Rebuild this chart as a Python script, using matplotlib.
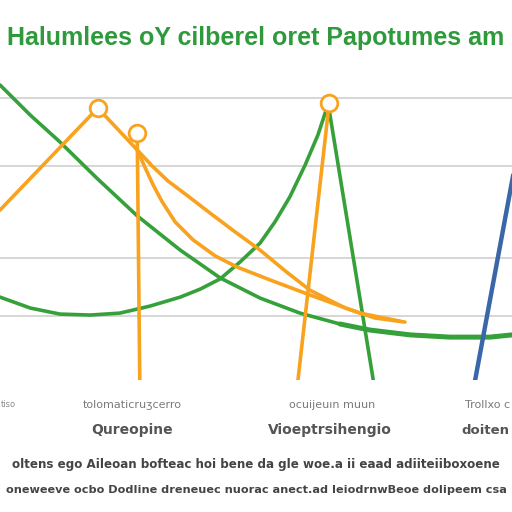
import matplotlib
matplotlib.use('Agg')
import matplotlib.pyplot as plt

# values (x: 0-100, y: 0-100)
grid_levels = [20, 38, 67, 88]

g_fall_x = [0, 5.9, 11.7, 18.9, 26.8, 35.2, 43.0, 50.8, 58.6, 66.4, 72.3, 80.1, 87.9, 95.7, 100]
g_fall_y = [92.2, 82.8, 74.4, 63.1, 51.3, 40.6, 31.9, 25.6, 20.9, 17.5, 15.6, 14.1, 13.4, 13.4, 14.1]

g_spike_x = [0, 5.9, 11.7, 17.6, 23.4, 29.3, 35.2, 39.1, 43.0, 46.9, 50.8, 53.7, 56.6, 59.6, 62.1, 64.1, 72.9]
g_spike_y = [25.9, 22.5, 20.6, 20.3, 20.9, 23.1, 25.9, 28.4, 31.6, 36.9, 42.8, 49.4, 57.2, 67.2, 76.6, 86.3, 0]

o_main_x = [0, 19.1, 26.8, 29.7, 32.8, 36.7, 41.0, 45.9, 50.8, 55.7, 60.5, 67.4, 73.2, 79.1]
o_main_y = [53.1, 85.0, 71.9, 66.9, 62.2, 57.5, 52.2, 46.3, 40.6, 34.1, 28.1, 22.5, 19.4, 18.1]

o_bend_x = [26.8, 28.3, 29.9, 31.6, 34.2, 37.7, 42.0, 46.3, 52.7, 60.5, 70.3, 78.1]
o_bend_y = [71.9, 66.5, 61.0, 55.9, 49.4, 43.8, 38.8, 35.3, 31.3, 26.6, 20.9, 18.4]

o_drop1_x = [26.8, 27.3]
o_drop1_y = [77.2, 0]
o_drop2_x = [64.3, 58.2]
o_drop2_y = [86.6, 0]

peak_x = [19.1, 26.8, 64.3]
peak_y = [85.0, 77.2, 86.6]

blue_x = [92.8, 100.6]
blue_y = [0, 67.2]

title = "Halumlees oY cilberel oret Papotumes am"
top_labels = ["tolomaticruʒcerro", "ocuijeuın muun", "Trollxo c", "tiso"]
cat_labels = ["Qureopine", "Vioeptrsihengio", "doiten"]
note1 = "oltens ego Aileoan bofteac hoi bene da gle woe.a ii eaad adiiteiiboxoene"
note2 = "oneweeve ocbo Dodline dreneuec nuorac anect.ad leiodrnwBeoe dolipeem csa"

GREEN = '#36a13b'
ORANGE = '#f8a21e'
BLUE = '#3a67a8'

fig = plt.figure(figsize=(5.12, 5.12), dpi=100)
ax = fig.add_axes([0, 0.2578, 1, 0.625])
ax.set_xlim(0, 100)
ax.set_ylim(0, 100)
for s in ax.spines.values():
    s.set_visible(False)
ax.set_xticks([])
ax.set_yticks(grid_levels)
ax.tick_params(left=False, labelleft=False)
ax.grid(axis='y', color='#cccccc', lw=1.1)
ax.set_axisbelow(True)

lw = 2.6
ax.plot(g_fall_x, g_fall_y, color=GREEN, lw=lw, solid_capstyle='round')
ax.plot(g_fall_x[9:], g_fall_y[9:], color=GREEN, lw=3.6, solid_capstyle='round')
ax.plot(g_spike_x, g_spike_y, color=GREEN, lw=lw, solid_joinstyle='miter')
ax.plot(o_main_x, o_main_y, color=ORANGE, lw=lw, solid_capstyle='round')
ax.plot(o_bend_x, o_bend_y, color=ORANGE, lw=lw, solid_capstyle='round')
ax.plot(o_drop1_x, o_drop1_y, color=ORANGE, lw=lw)
ax.plot(o_drop2_x, o_drop2_y, color=ORANGE, lw=lw)
ax.plot(blue_x, blue_y, color=BLUE, lw=3.2)
ax.plot(peak_x, peak_y, ls='none', marker='o', ms=12, mfc='white', mec=ORANGE, mew=2)

fig.text(0.5, 0.926, title, ha='center', va='center', color='#2f9a3c',
         fontsize=18, fontweight='bold', family='Liberation Sans')

fig.text(0.258, 0.209, top_labels[0], ha='center', va='center', color='#7a7a7a', fontsize=8)
fig.text(0.648, 0.209, top_labels[1], ha='center', va='center', color='#7a7a7a', fontsize=8)
fig.text(0.908, 0.209, top_labels[2], ha='left', va='center', color='#7a7a7a', fontsize=8)
fig.text(0.002, 0.209, top_labels[3], ha='left', va='center', color='#8a8a8a', fontsize=6)

fig.text(0.258, 0.160, cat_labels[0], ha='center', va='center', color='#555555',
         fontsize=10, fontweight='bold')
fig.text(0.645, 0.160, cat_labels[1], ha='center', va='center', color='#555555',
         fontsize=10, fontweight='bold')
fig.text(0.994, 0.160, cat_labels[2], ha='right', va='center', color='#555555',
         fontsize=9.5, fontweight='bold')

fig.text(0.5, 0.092, note1, ha='center', va='center', color='#444444',
         fontsize=8.6, fontweight='bold')
fig.text(0.5, 0.043, note2, ha='center', va='center', color='#444444',
         fontsize=8.1, fontweight='bold')

fig.savefig('out.png', dpi=100, facecolor='white')
